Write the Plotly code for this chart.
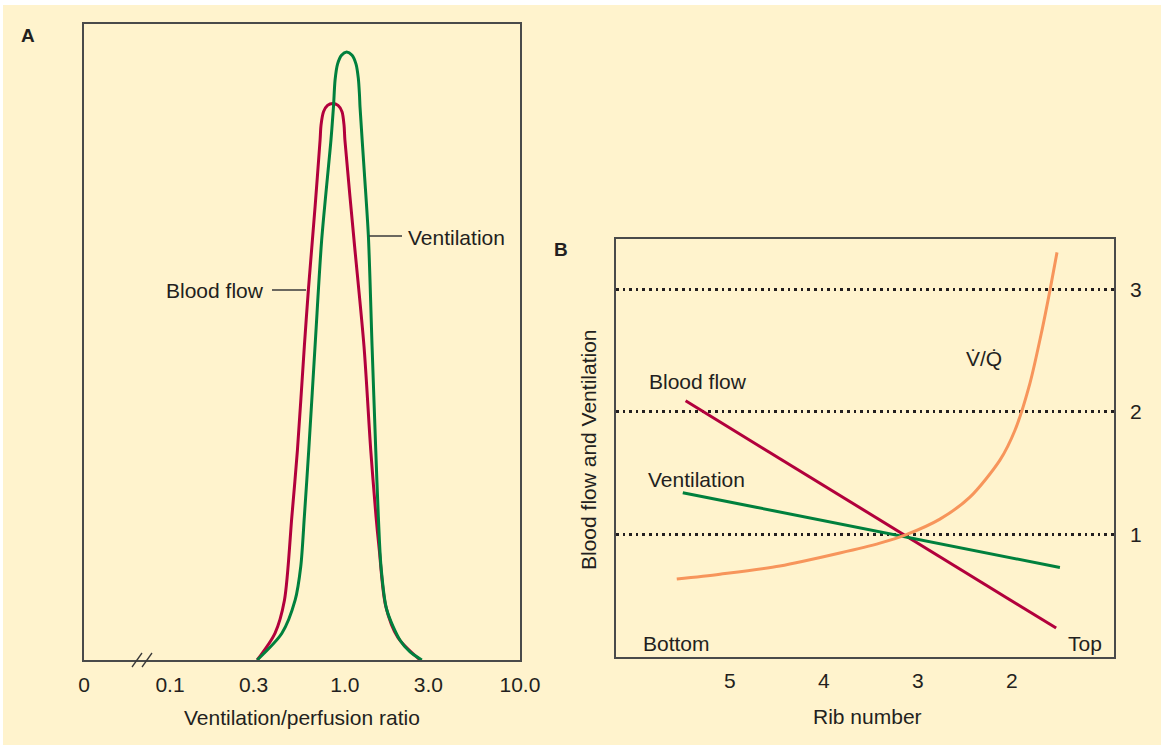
import numpy as np
import plotly.graph_objects as go

W, H = 1161, 745

# ---------------- Panel A data (V/Q ratio distribution) ----------------
blood_ratio = [0.315, 0.398, 0.451, 0.497, 0.535, 0.586, 0.618, 0.675, 0.721, 0.730,
               0.754, 0.795, 0.851, 0.913, 0.962, 0.988, 0.999, 1.127, 1.285, 1.404,
               1.506, 1.571, 1.706, 2.01, 2.69]
blood_height = [0, 0.042, 0.094, 0.225, 0.330, 0.493, 0.582, 0.713, 0.818, 0.841,
                0.862, 0.872, 0.875, 0.872, 0.862, 0.841, 0.818, 0.660, 0.493, 0.330,
                0.225, 0.173, 0.086, 0.035, 0]

vent_ratio = [0.315, 0.436, 0.519, 0.559, 0.586, 0.621, 0.678, 0.736, 0.832, 0.860,
              0.878, 0.907, 0.956, 1.023, 1.098, 1.157, 1.192, 1.211, 1.219, 1.291,
              1.361, 1.429, 1.500, 1.552, 1.607, 1.733, 2.065, 2.355, 2.75]
vent_height = [0, 0.042, 0.094, 0.147, 0.225, 0.330, 0.503, 0.660, 0.818, 0.870,
               0.912, 0.937, 0.951, 0.956, 0.951, 0.937, 0.915, 0.888, 0.870, 0.766,
               0.667, 0.493, 0.330, 0.225, 0.147, 0.079, 0.031, 0.0126, 0]

a_tick_ratio = [0.1, 0.3, 1.0, 3.0, 10.0]
a_tick_text = ["0", "0.1", "0.3", "1.0", "3.0", "10.0"]
a_zero_pos = -1.491  # axis position where "0" is drawn (left edge, axis break)

# ---------------- Panel B data (by rib number) ----------------
rib_blood = [5.47, 1.53]
blood_level = [2.09, 0.236]
rib_vent = [5.50, 1.49]
vent_level = [1.34, 0.73]
rib_vq = [5.564, 5.106, 4.468, 3.830, 3.404, 3.138, 2.766, 2.447, 2.128, 1.968,
          1.809, 1.681, 1.596, 1.521]
vq_level = [0.636, 0.676, 0.742, 0.848, 0.929, 0.994, 1.125, 1.304, 1.606, 1.850,
            2.233, 2.665, 2.991, 3.301]
rib_ticks = [5, 4, 3, 2]
level_ticks = [1, 2, 3]

# ---------------- styling ----------------
BG = "#FFF3CD"
TXT = "#231F20"
RED = "#B2003C"
GREEN = "#00803D"
ORANGE = "#F7955B"
FONT = "Liberation Sans, Arial, Helvetica, sans-serif"
FS = 21


def px(x):
    return x / W


def py(y):
    return 1 - y / H


fig = go.Figure()

# Panel A curves
fig.add_trace(go.Scatter(x=np.log10(blood_ratio), y=blood_height, mode="lines",
                         line=dict(color=RED, width=3, shape="spline", smoothing=0.8),
                         xaxis="x", yaxis="y", showlegend=False, hoverinfo="skip"))
fig.add_trace(go.Scatter(x=np.log10(vent_ratio), y=vent_height, mode="lines",
                         line=dict(color=GREEN, width=3, shape="spline", smoothing=0.8),
                         xaxis="x", yaxis="y", showlegend=False, hoverinfo="skip"))

# Panel B lines
fig.add_trace(go.Scatter(x=rib_blood, y=blood_level, mode="lines",
                         line=dict(color=RED, width=3), xaxis="x2", yaxis="y2",
                         showlegend=False, hoverinfo="skip"))
fig.add_trace(go.Scatter(x=rib_vent, y=vent_level, mode="lines",
                         line=dict(color=GREEN, width=3), xaxis="x2", yaxis="y2",
                         showlegend=False, hoverinfo="skip"))
fig.add_trace(go.Scatter(x=rib_vq, y=vq_level, mode="lines",
                         line=dict(color=ORANGE, width=3, shape="spline", smoothing=0.8),
                         xaxis="x2", yaxis="y2", showlegend=False, hoverinfo="skip"))

a_tickvals = [a_zero_pos] + list(np.log10(a_tick_ratio))

axis_common = dict(showline=True, linecolor="#4a4a4a", linewidth=1.5, mirror=True,
                   zeroline=False, automargin=False,
                   tickfont=dict(family=FONT, size=FS, color=TXT))

fig.update_layout(
    width=W, height=H,
    margin=dict(l=0, r=0, t=0, b=0, autoexpand=False),
    paper_bgcolor=BG, plot_bgcolor=BG,
    font=dict(family=FONT, size=FS, color=TXT),
    xaxis=dict(domain=[px(84), px(520)], range=[a_zero_pos - 0.0005, 1.0005],
               tickvals=a_tickvals, ticktext=a_tick_text, ticks="", showgrid=False,
               ticklabelstandoff=5, anchor="y", **axis_common),
    yaxis=dict(domain=[py(660), py(24)], range=[0, 1], showticklabels=False,
               ticks="", showgrid=False, anchor="x", **axis_common),
    xaxis2=dict(domain=[px(616), px(1114)], range=[6.21, 0.915],
                tickvals=rib_ticks, ticks="", ticklabelstandoff=4, showgrid=False,
                anchor="y2", **axis_common),
    yaxis2=dict(domain=[py(657), py(239)], range=[0, 3.41], side="right",
                tickvals=level_ticks, ticks="", ticklabelstandoff=10,
                anchor="x2", showgrid=True, gridcolor=TXT, gridwidth=2.6,
                griddash="2.6px,4px", **axis_common),
)

shapes = []
# white edge strips
shapes.append(dict(type="rect", xref="paper", yref="paper", x0=0, x1=1, y0=py(5), y1=1,
                   fillcolor="white", line=dict(width=0), layer="below"))
shapes.append(dict(type="rect", xref="paper", yref="paper", x0=0, x1=px(3), y0=0, y1=1,
                   fillcolor="white", line=dict(width=0), layer="below"))
# leader lines in panel A
shapes.append(dict(type="line", xref="paper", yref="paper", x0=px(369), x1=px(402),
                   y0=py(236), y1=py(236), line=dict(color="#3a3a3a", width=1.5)))
shapes.append(dict(type="line", xref="paper", yref="paper", x0=px(272), x1=px(306),
                   y0=py(290), y1=py(290), line=dict(color="#3a3a3a", width=1.5)))
# axis break marks
for x0 in (132, 142):
    shapes.append(dict(type="line", xref="paper", yref="paper", x0=px(x0), x1=px(x0 + 10),
                       y0=py(667), y1=py(653), line=dict(color="#3a3a3a", width=1.3)))
fig.update_layout(shapes=shapes)


def ann(text, x, y, size=FS, xanchor="center", bold=False, angle=0):
    t = f"<b>{text}</b>" if bold else text
    return dict(text=t, x=px(x), y=py(y), xref="paper", yref="paper", showarrow=False,
                xanchor=xanchor, yanchor="middle", textangle=angle,
                font=dict(family=FONT, size=size, color=TXT))


fig.update_layout(annotations=[
    ann("A", 28, 35, size=19, bold=True),
    ann("B", 561, 250, size=19, bold=True),
    ann("Ventilation", 406, 237, xanchor="left"),
    ann("Blood flow", 266, 290, xanchor="right"),
    ann("Ventilation/perfusion ratio", 302, 717),
    ann("Blood flow", 647, 381, xanchor="left"),
    ann("Ventilation", 646, 479, xanchor="left"),
    ann("V\u0307/Q\u0307", 984, 358),
    ann("Bottom", 641, 643, xanchor="left"),
    ann("Top", 1104, 643, xanchor="right"),
    ann("Rib number", 867, 716),
    ann("Blood flow and Ventilation", 588, 450, angle=-90),
])

fig.write_html("out.html")
